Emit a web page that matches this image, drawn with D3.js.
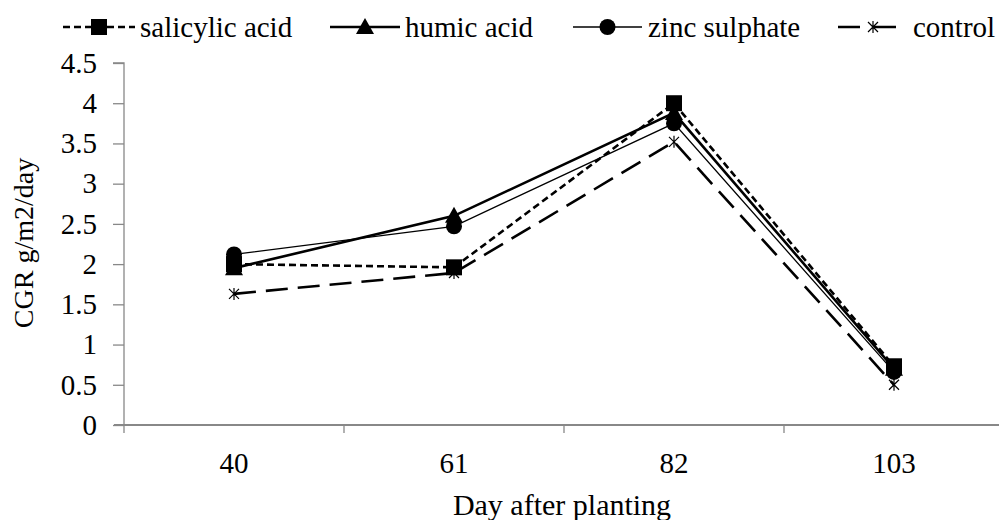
<!DOCTYPE html>
<html><head><meta charset="utf-8">
<script src="https://cdn.jsdelivr.net/npm/d3@7"></script>
<style>body{margin:0;background:#fff}svg{display:block}</style>
</head><body><svg id="c" width="999" height="520"></svg>
<script>
const days = ["40","61","82","103"];
const yTicks = [0,0.5,1,1.5,2,2.5,3,3.5,4,4.5];
const seriesNames = ["salicylic acid","humic acid","zinc sulphate","control"];
const salicylic = [2.0,1.96,4.0,0.73];
const humic = [1.95,2.6,3.88,0.7];
const zinc = [2.12,2.47,3.75,0.66];
const control = [1.63,1.89,3.52,0.5];

const FONT = "'Liberation Serif','Times New Roman',serif";
const series = [
  {name:seriesNames[0], values:salicylic, dash:"7,4", w:2.6, marker:"square"},
  {name:seriesNames[1], values:humic, dash:null, w:2.6, marker:"triangle"},
  {name:seriesNames[2], values:zinc, dash:null, w:1.3, marker:"circle"},
  {name:seriesNames[3], values:control, dash:"22,10", w:2.6, marker:"star"}
];
const svg = d3.select("#c");
const m = {l:124, t:63, b:425};
const x = d3.scaleBand().domain(days).range([m.l, 1004]);
const y = d3.scaleLinear().domain([0,4.5]).range([m.b, m.t]);

// x axis
const ax = svg.append("g").attr("transform",`translate(0,${m.b})`)
  .call(d3.axisBottom(x).tickSize(0).tickPadding(27));
ax.select(".domain").remove();
ax.selectAll("text").style("font-family",FONT).style("font-size","29px").attr("fill","#000");
svg.selectAll(".xt").data(days).enter().append("line")
  .attr("x1",d=>x(d)).attr("x2",d=>x(d)).attr("y1",m.b).attr("y2",m.b+8).attr("stroke","#888").attr("stroke-width",1.3);
svg.append("line").attr("x1",m.l-10).attr("x2",1004).attr("y1",m.b).attr("y2",m.b).attr("stroke","#888").attr("stroke-width",2);

// y axis
const ay = svg.append("g").attr("transform",`translate(${m.l},0)`)
  .call(d3.axisLeft(y).tickValues(yTicks).tickSize(11).tickPadding(16).tickFormat(d=>String(d)));
ay.select(".domain").attr("stroke","#888").attr("stroke-width",1.3).attr("d",`M-11,${m.t}H0V${m.b}`);
ay.selectAll(".tick line").attr("stroke","#888").attr("stroke-width",1.3);
ay.selectAll("text").style("font-family",FONT).style("font-size","29px").attr("fill","#000");

// axis titles
svg.append("text").attr("x",562).attr("y",515).attr("text-anchor","middle")
  .style("font-family",FONT).style("font-size","30px").text("Day after planting");
svg.append("text").attr("transform",`translate(33,${243}) rotate(-90)`).attr("text-anchor","middle")
  .style("font-family",FONT).style("font-size","28px").text("CGR g/m2/day");

const cx = d=>x(d)+x.bandwidth()/2;
function drawMarker(g, type, px, py){
  if(type==="square") g.append("rect").attr("x",px-8).attr("y",py-8).attr("width",16).attr("height",16).attr("fill","#000");
  else if(type==="triangle") g.append("path").attr("d",`M${px},${py-9}L${px+9},${py+7}L${px-9},${py+7}Z`).attr("fill","#000");
  else if(type==="circle") g.append("circle").attr("cx",px).attr("cy",py).attr("r",8).attr("fill","#000");
  else if(type==="star"){
    const s=5;
    g.append("path").attr("d",`M${px-s},${py-s}L${px+s},${py+s}M${px-s},${py+s}L${px+s},${py-s}M${px},${py-s-1}V${py+s+1}`).attr("stroke","#000").attr("stroke-width",1.2);
  }
}
const line = d3.line().x((d,i)=>cx(days[i])).y(d=>y(d));
series.forEach(s=>{
  svg.append("path").attr("d",line(s.values)).attr("fill","none").attr("stroke","#000")
    .attr("stroke-width",s.w).attr("stroke-dasharray",s.dash);
});
series.forEach(s=>{
  const g=svg.append("g");
  s.values.forEach((v,i)=>drawMarker(g,s.marker,cx(days[i]),y(v)));
});

// legend
const leg = [
  {x1:63,x2:135,tx:140},
  {x1:330,x2:400,tx:405},
  {x1:573,x2:642,tx:648},
  {x1:838,x2:908,tx:913}
];
const ly = 27;
series.forEach((s,i)=>{
  const L=leg[i]; const g=svg.append("g");
  g.append("line").attr("x1",L.x1).attr("x2",L.x2).attr("y1",ly).attr("y2",ly).attr("stroke","#000")
    .attr("stroke-width",s.w).attr("stroke-dasharray",s.dash? (i===3?"22,14":"7,4"):null);
  drawMarker(g,s.marker,(L.x1+L.x2)/2,ly);
  g.append("text").attr("x",L.tx).attr("y",ly+10).style("font-family",FONT).style("font-size","29px").attr("fill","#000").text(s.name);
});
</script></body></html>
